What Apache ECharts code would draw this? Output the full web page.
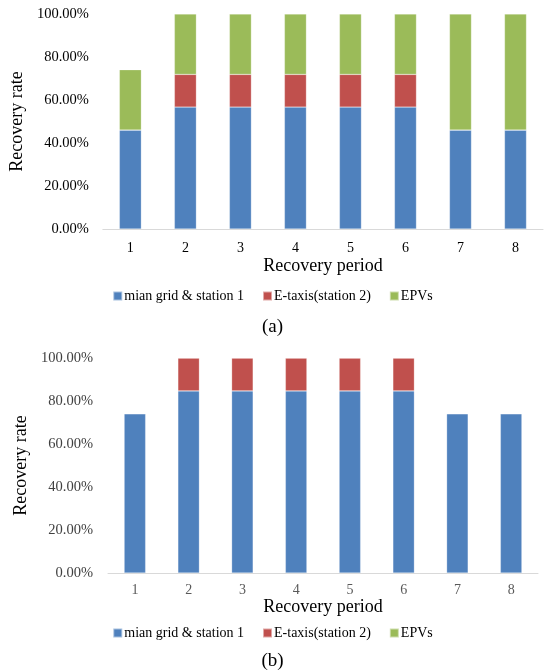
<!DOCTYPE html>
<html><head><meta charset="utf-8">
<script src="https://cdn.jsdelivr.net/npm/echarts@6/dist/echarts.min.js"></script>
<style>html,body{margin:0;padding:0;background:#fff}#c{width:545px;height:672px}</style>
</head><body><div id="c"></div>
<script>
const periods = ['1','2','3','4','5','6','7','8'];
const seriesNames = ['mian grid & station 1','E-taxis(station 2)','EPVs'];
// Chart (a)
const aMainGrid = [46.0, 56.7, 56.7, 56.7, 56.7, 56.7, 46.0, 46.0];
const aETaxis   = [0, 15.2, 15.2, 15.2, 15.2, 15.2, 0, 0];
const aEPVs     = [28.1, 28.1, 28.1, 28.1, 28.1, 28.1, 54.0, 54.0];
// Chart (b)
const bMainGrid = [74.1, 84.7, 84.7, 84.7, 84.7, 84.7, 74.1, 74.1];
const bETaxis   = [0, 15.3, 15.3, 15.3, 15.3, 15.3, 0, 0];
const bEPVs     = [0, 0, 0, 0, 0, 0, 0, 0];
const yTicks = [0, 20, 40, 60, 80, 100];

const colors = ['#4F81BD', '#C0504D', '#9BBB59'];
const font = 'Liberation Serif';
const chart = echarts.init(document.getElementById('c'), null, {renderer: 'canvas'});

function xAxis(gridIndex, labelColor, margin, gap) {
  return {
    type: 'category', gridIndex, data: periods,
    axisLine: {lineStyle: {color: '#D9D9D9', width: 1}},
    axisTick: {show: false},
    axisLabel: {color: labelColor, fontFamily: font, fontSize: 14, margin},
    name: 'Recovery period', nameLocation: 'middle', nameGap: gap,
    nameTextStyle: {color: '#000', fontFamily: font, fontSize: 18}
  };
}
function yAxis(gridIndex, labelColor, gap, margin) {
  return {
    type: 'value', gridIndex, min: 0, max: 100, interval: 20,
    axisLine: {show: false}, axisTick: {show: false},
    splitLine: {show: false},
    axisLabel: {color: labelColor, fontFamily: font, fontSize: 14.5, margin,
      formatter: v => v.toFixed(2) + '%'},
    name: 'Recovery rate', nameLocation: 'middle', nameGap: gap,
    nameTextStyle: {color: '#000', fontFamily: font, fontSize: 18}
  };
}
function bars(idx, arrs) {
  return arrs.map((d, i) => ({
    name: seriesNames[i], type: 'bar', stack: 's' + idx,
    xAxisIndex: idx, yAxisIndex: idx, data: d, barWidth: '40%',
    itemStyle: {color: colors[i], borderColor: 'rgba(255,255,255,0.5)', borderWidth: 0.5},
    emphasis: {disabled: true}
  }));
}
const legendBase = {
  data: seriesNames, icon: 'rect', itemWidth: 9, itemHeight: 9, itemGap: 18,
  textStyle: {color: '#000', fontFamily: font, fontSize: 14, padding: [0, 0, 0, -3]},
  selectedMode: false
};
chart.setOption({
  animation: false,
  color: colors,
  grid: [
    {left: 99, right: 2, top: 14, bottom: 443},
    {left: 108, right: 7, top: 358, bottom: 99}
  ],
  xAxis: [xAxis(0, '#000', 12, 28), xAxis(1, '#595959', 10, 25)],
  yAxis: [yAxis(0, '#000', 73, 14), yAxis(1, '#404040', 75, 15)],
  legend: [
    Object.assign({}, legendBase, {left: 'center', top: 284}),
    Object.assign({}, legendBase, {left: 'center', top: 621})
  ],
  title: [
    {text: '(a)', left: 'center', top: 313, textStyle: {fontFamily: font, fontSize: 19, fontWeight: 'normal', color: '#000'}},
    {text: '(b)', left: 'center', top: 647, textStyle: {fontFamily: font, fontSize: 19, fontWeight: 'normal', color: '#000'}}
  ],
  series: bars(0, [aMainGrid, aETaxis, aEPVs]).concat(bars(1, [bMainGrid, bETaxis, bEPVs]))
});
</script></body></html>
